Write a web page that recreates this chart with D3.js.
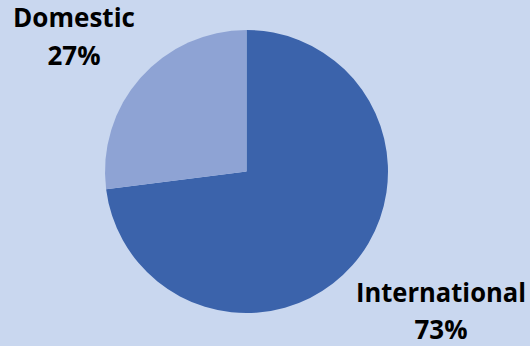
<!DOCTYPE html>
<html><head><meta charset="utf-8">
<script src="https://cdn.jsdelivr.net/npm/d3@7"></script>
<style>html,body{margin:0;padding:0;background:#c9d7ef;}svg{display:block;}</style>
</head><body>
<script>
const categories = ["International", "Domestic"];
const values = [73, 27];
const labels = ["73%", "27%"];
const colors = ["#3b63ab", "#8ea3d4"];

const W = 530, H = 346;
const svg = d3.select("body").append("svg").attr("width", W).attr("height", H);
svg.append("rect").attr("width", W).attr("height", H).attr("fill", "#c9d7ef");

const cx = 246.5, cy = 171.5, R = 141.5;
const pie = d3.pie().sort(null).value(d => d.v);
const data = pie(categories.map((c, i) => ({c, v: values[i], l: labels[i], col: colors[i]})));
const arc = d3.arc().innerRadius(0).outerRadius(R);
const g = svg.append("g").attr("transform", `translate(${cx},${cy})`);
g.selectAll("path").data(data).enter().append("path")
  .attr("d", arc).attr("fill", d => d.data.col);

const labelPos = {International: {x: 441, y1: 301.5, y2: 339}, Domestic: {x: 74, y1: 27, y2: 65}};
const lg = svg.append("g").attr("font-family", "'Open Sans', sans-serif").attr("font-weight", "bold")
  .attr("font-size", 27).attr("fill", "#000").attr("text-anchor", "middle");
data.forEach(d => {
  const p = labelPos[d.data.c];
  lg.append("text").attr("x", p.x).attr("y", p.y1).text(d.data.c)
    .attr("textLength", d.data.c === "International" ? 170 : 122).attr("lengthAdjust", "spacingAndGlyphs");
  lg.append("text").attr("x", p.x).attr("y", p.y2).text(d.data.l)
    .attr("textLength", 53).attr("lengthAdjust", "spacingAndGlyphs");
});
</script>
</body></html>
